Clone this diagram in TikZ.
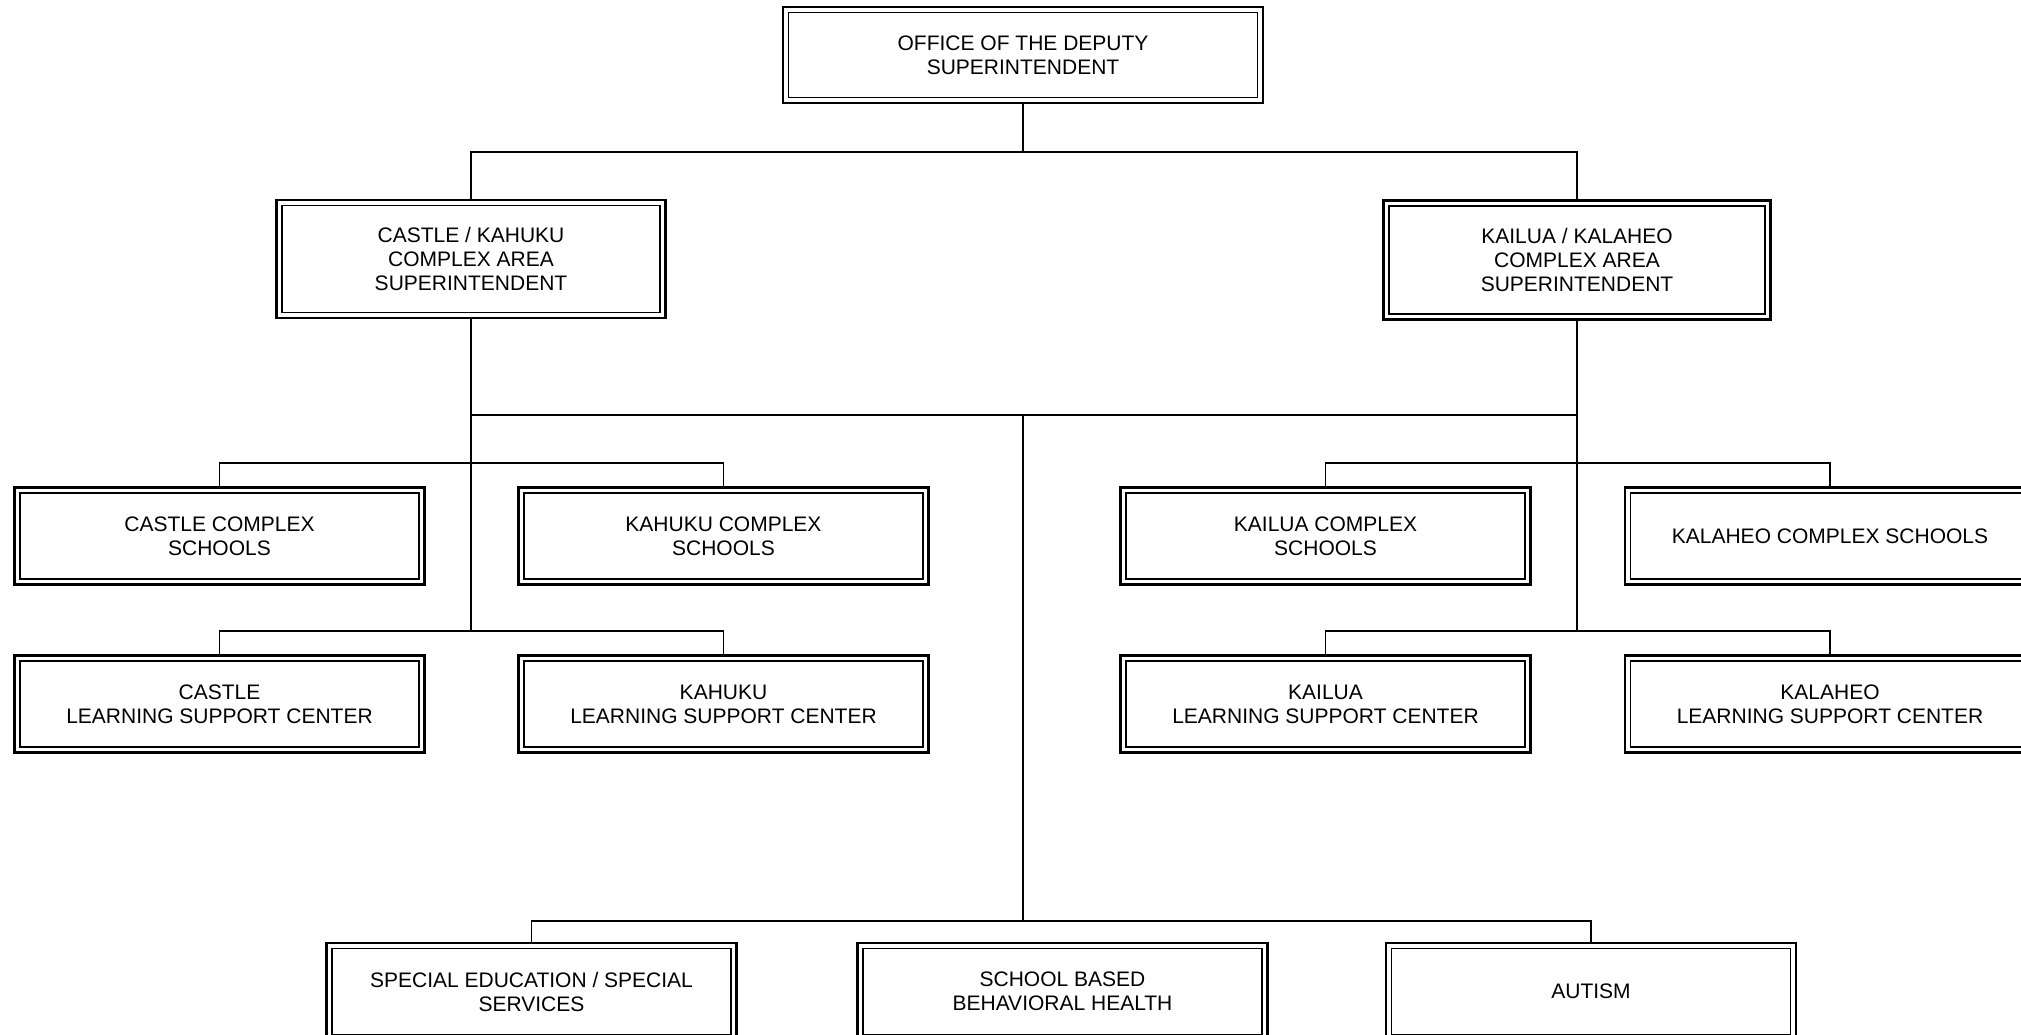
\documentclass[tikz,border=0pt]{standalone}
\usepackage{fontspec}
\setmainfont{Liberation Sans}
\begin{document}
\begin{tikzpicture}[x=1pt,y=-1pt,
  box/.style={rectangle, draw=black, line width=2.2pt, align=center,
    minimum width=410pt, minimum height=97pt, inner sep=0pt,
    font=\fontsize{21}{24}\selectfont,
    path picture={\draw[line width=1.3pt]
      ([shift={(5.5pt,5.5pt)}]path picture bounding box.south west) rectangle
      ([shift={(-5.5pt,-5.5pt)}]path picture bounding box.north east);}},
  conn/.style={draw=black, line width=1.8pt}]
\useasboundingbox (0,0) rectangle (2021,1035);
\fill[white] (0,0) rectangle (2021,1035);
\begin{scope}
\clip (0,0) rectangle (2021,1035);
% nodes
\node[box, minimum width=480pt, minimum height=96pt] (top) at (1023,55) {OFFICE OF THE DEPUTY\\SUPERINTENDENT};
\node[box, minimum width=389pt, minimum height=118pt] (ca) at (471,259) {CASTLE / KAHUKU\\COMPLEX AREA\\SUPERINTENDENT};
\node[box, minimum width=387pt, minimum height=119pt] (ka) at (1577,260) {KAILUA / KALAHEO\\COMPLEX AREA\\SUPERINTENDENT};
\node[box] (cs) at (219.5,536) {CASTLE COMPLEX\\SCHOOLS};
\node[box] (ks) at (723.5,536) {KAHUKU COMPLEX\\SCHOOLS};
\node[box] (ls) at (1325.5,536) {KAILUA COMPLEX\\SCHOOLS};
\node[box] (hs) at (1830,536) {KALAHEO COMPLEX SCHOOLS};
\node[box] (cl) at (219.5,704) {CASTLE\\LEARNING SUPPORT CENTER};
\node[box] (kl) at (723.5,704) {KAHUKU\\LEARNING SUPPORT CENTER};
\node[box] (ll) at (1325.5,704) {KAILUA\\LEARNING SUPPORT CENTER};
\node[box] (hl) at (1830,704) {KALAHEO\\LEARNING SUPPORT CENTER};
\node[box] (se) at (531.5,991.5) {SPECIAL EDUCATION / SPECIAL\\SERVICES};
\node[box] (sb) at (1062.5,991.5) {SCHOOL BASED\\BEHAVIORAL HEALTH};
\node[box] (au) at (1591,991.5) {AUTISM};
% junction coordinates
\coordinate (j1) at (1023,152);
\coordinate (mid) at (0,415);
\coordinate (j2) at (1023,415);
\coordinate (j3) at (1023,921);
\coordinate (rowA) at (0,463);
\coordinate (rowB) at (0,631);
% connectors
\draw[conn] (top.south) -- (j1);
\draw[conn] (ca.north) |- (j1) -| (ka.north);
\draw[conn] (ca.south) -- (ca.south |- rowB);
\draw[conn] (ka.south) -- (ka.south |- rowB);
\draw[conn] (ca.south |- mid) -- (ka.south |- mid);
\draw[conn] (cs.north) |- (ks.north |- rowA) -- (ks.north);
\draw[conn] (cl.north) |- (kl.north |- rowB) -- (kl.north);
\draw[conn] (ls.north) |- (hs.north |- rowA) -- (hs.north);
\draw[conn] (ll.north) |- (hl.north |- rowB) -- (hl.north);
\draw[conn] (j2) -- (j3);
\draw[conn] (se.north) |- (j3) -| (au.north);
\end{scope}
\end{tikzpicture}
\end{document}
